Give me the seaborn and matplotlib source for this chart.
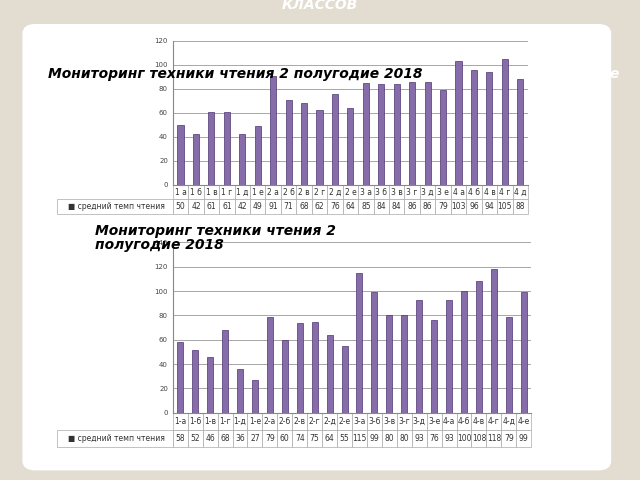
import matplotlib.pyplot as plt
import seaborn as sns
from matplotlib.patches import FancyBboxPatch

top_classes = ['1 а', '1 б', '1 в', '1 г', '1 д', '1 е', '2 а', '2 б', '2 в', '2 г', '2 д', '2 е',
               '3 а', '3 б', '3 в', '3 г', '3 д', '3 е', '4 а', '4 б', '4 в', '4 г', '4 д']
top_values = [50, 42, 61, 61, 42, 49, 91, 71, 68, 62, 76, 64, 85, 84, 84, 86, 86, 79, 103, 96, 94, 105, 88]

bot_classes = ['1-а', '1-б', '1-в', '1-г', '1-д', '1-е', '2-а', '2-б', '2-в', '2-г', '2-д', '2-е',
               '3-а', '3-б', '3-в', '3-г', '3-д', '3-е', '4-а', '4-б', '4-в', '4-г', '4-д', '4-е']
bot_values = [58, 52, 46, 68, 36, 27, 79, 60, 74, 75, 64, 55, 115, 99, 80, 80, 93, 76, 93, 100, 108, 118, 79, 99]

series_name = 'средний темп чтения'
bar_color = '#8463b3'

sns.set_style('white')
plt.rcParams['font.family'] = ['DejaVu Sans']

fig = plt.figure(figsize=(6.4, 4.8), dpi=100)
fig.patch.set_facecolor('#e3dcd1')

# white rounded panel behind the charts
bg = fig.add_axes([0, 0, 1, 1], zorder=-1)
bg.set_axis_off()
bg.set_xlim(0, 1)
bg.set_ylim(0, 1)
bg.add_patch(FancyBboxPatch((0.035, 0.02), 0.92, 0.93, boxstyle='round,pad=0,rounding_size=0.02',
                            facecolor='white', edgecolor='none'))


def draw(rect, classes, values, ymax):
    ax = fig.add_axes(rect)
    ax.set_facecolor('none')
    sns.barplot(x=classes, y=values, color=bar_color, width=0.4, ax=ax, edgecolor='#4b3470', linewidth=0.5)
    ax.set_ylim(0, ymax)
    ax.set_yticks(range(0, ymax + 1, 20))
    ax.tick_params(axis='y', labelsize=5, length=0, colors='#444444')
    ax.yaxis.grid(True, color='#999999', linewidth=0.6)
    ax.set_axisbelow(True)
    ax.set_xticks([])
    ax.set_xlim(-0.5, len(classes) - 0.5)
    for s in ['top', 'right']:
        ax.spines[s].set_visible(False)
    for s in ['left', 'bottom']:
        ax.spines[s].set_color('#888888')
    tab = ax.table(cellText=[classes, [str(v) for v in values]],
                   rowLabels=['', '■ ' + series_name],
                   cellLoc='center', bbox=[0, -0.2, 1, 0.2])
    tab.auto_set_font_size(False)
    tab.set_fontsize(5.5)
    for (r, c), cell in tab.get_celld().items():
        cell.set_edgecolor('#aaaaaa')
        cell.set_linewidth(0.5)
        cell.get_text().set_color('#333333')
        if c == -1:
            cell.set_width(0.25)
            if r == 0:
                cell.set_edgecolor('none')
    return ax


draw([0.27, 0.615, 0.555, 0.3], top_classes, top_values, 120)
draw([0.27, 0.14, 0.56, 0.355], bot_classes, bot_values, 140)

fig.text(0.5, 0.99, 'КЛАССОВ', color='white', fontsize=10, fontweight='bold', style='italic',
         ha='center', va='center')
fig.text(0.075, 0.845, 'Мониторинг техники чтения 2 полугодие 2018', fontsize=10, fontweight='bold',
         style='italic', color='black', va='center')
fig.text(0.835, 0.845, 'полугодие', fontsize=10, fontweight='bold', style='italic',
         color='white', va='center')
fig.text(0.148, 0.505, 'Мониторинг техники чтения 2\nполугодие 2018', fontsize=10, fontweight='bold',
         style='italic', color='black', va='center', linespacing=1.0)

fig.savefig('out.png', dpi=100, facecolor=fig.get_facecolor())
